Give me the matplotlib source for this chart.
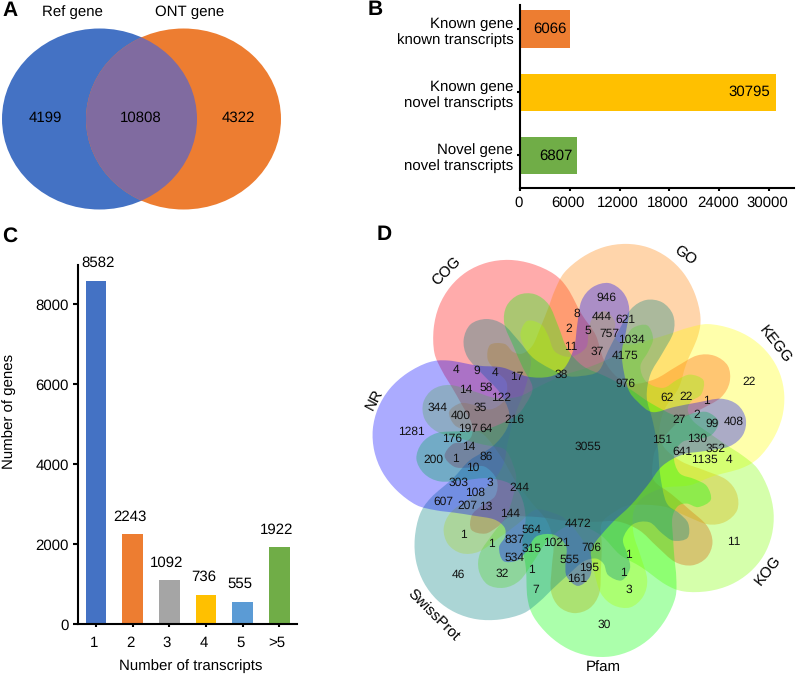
import numpy as np
import matplotlib
matplotlib.use('Agg')
import matplotlib.pyplot as plt
from matplotlib.patches import Ellipse, PathPatch
from matplotlib.path import Path
from matplotlib.transforms import ScaledTranslation

plt.rcParams['font.family'] = ['Liberation Sans', 'DejaVu Sans']
plt.rcParams['text.hinting'] = 'none'
plt.rcParams['text.hinting_factor'] = 1
W, H = 796, 676
FS = 11.0

# ---- data ----
venn2_names = ['Ref gene', 'ONT gene']
venn2_values = [4199, 10808, 4322]

b_cats = ['Known gene\nknown transcripts', 'Known gene\nnovel transcripts', 'Novel gene\nnovel transcripts']
b_vals = [6066, 30795, 6807]
b_cols = ['#ED7D31', '#FFC000', '#70AD47']
b_ticks = [0, 6000, 12000, 18000, 24000, 30000]

c_cats = ['1', '2', '3', '4', '5', '>5']
c_vals = [8582, 2243, 1092, 736, 555, 1922]
c_cols = ['#4472C4', '#ED7D31', '#A5A5A5', '#FFC000', '#5B9BD5', '#70AD47']
c_ticks = [0, 2000, 4000, 6000, 8000]

d_sets = ['COG', 'GO', 'KEGG', 'KOG', 'Pfam', 'SwissProt', 'NR']
d_cols = ['#FF0000', '#FF8000', '#FFFF00', '#80FF00', '#00FF00', '#008080', '#0000FF']
d_axis = [123.4, 72, 20.6, -30.8, -82.2, -133.7, 175]
d_values = ['4','9','4','17','38','946','8','444','621','2','5','757','1034','11','37','4175','976',
            '22','62','22','1','27','2','99','408','151','130','352','641','1135','4',
            '14','58','122','344','35','400','216','197','64','176','14','1281','200','1','86','10',
            '303','3','108','244','607','207','13','144','3055','4472','564','1','837','1','315','1021','706',
            '534','555','195','1','32','1','161','1','46','7','3','30','11']
d_value_pos = [(289,420),(350,421),(406,430),(470,442),(605,433),(740,203),(651,252),(725,262),(796,268),
    (625,297),(685,303),(747,311),(814,329),(632,352),(711,364),(795,378),(797,461),
    (1167,457),(922,502),(978,502),(1039,512),(958,569),(1011,555),(1056,582),(1122,574),(905,628),(1011,626),
    (1067,657),(967,665),(1032,688),(1106,691),
    (317,481),(378,474),(423,503),(233,533),(360,532),(302,557),(464,568),(323,595),(379,597),(275,627),(326,652),
    (154,605),(221,690),(285,686),(379,680),(338,713),(297,758),(390,758),(345,788),(478,773),(249,816),(322,826),
    (378,830),(449,852),(684,650),(655,882),(515,898),(309,915),(462,928),(395,942),(515,955),(590,939),(694,952),
    (464,984),(630,990),(686,1013),(806,976),(428,1032),(513,1021),(652,1045),(791,1028),(294,1034),(528,1080),
    (806,1080),(734,1184),(1120,935)]
d_name_pos = [(258,122),(975,75),(1245,345),(1225,1022),(730,1315),(218,1157),(42,510)]
d_name_rot = [45,-35,-52,52,0,-45,62]

# ---- overlay (pixel coordinates) ----
fig = plt.figure(figsize=(W/100, H/100), dpi=100)
ov = fig.add_axes([0, 0, 1, 1])
ov.set_xlim(0, W); ov.set_ylim(H, 0); ov.axis('off')

def rect(x0, x1, ytop, ybot):
    return [x0/W, 1-ybot/H, (x1-x0)/W, (ybot-ytop)/H]

# Panel A
left = Ellipse((99.5, 119), 195, 181, fc='#4472C4', ec='none')
right = Ellipse((183.5, 119), 195, 181, fc='#ED7D31', ec='none')
ov.add_patch(left); ov.add_patch(right)
lens = Ellipse((99.5, 119), 195, 181, fc='#806BA0', ec='none', zorder=2)
ov.add_patch(lens); lens.set_clip_path(right)
for x, v in zip([45, 141, 238], venn2_values):
    ov.text(x, 118, str(v), fontsize=FS, ha='center', va='center', zorder=5)
for x, n in zip([72, 190], venn2_names):
    ov.text(x, 12, n, fontsize=FS, ha='center', va='center')

for s, x, y in [('A', 10, 11), ('B', 375, 10), ('C', 10, 236), ('D', 384, 235)]:
    ov.text(x, y, s, fontsize=15, fontweight='bold', ha='center', va='center')

# Panel D: seven rotated copies of one petal outline (angle deg, radius in 3x px)
CX, CY = 668, 653
petal = [(0,632),(-6,625),(-12,605),(-18,572),(-24,528),(-28,480),(-33,400),(-40,340),(-47,271),(-60,235),(-72,245),
    (-80,300),(-82.5,370),(-84.5,440),(-88.5,482),(-94,500),(-99.5,482),(-103.5,440),(-105.5,370),(-108,300),
    (-122,225),(-135,215),(-148,235),
    (-151,300),(-153.5,370),(-155.5,440),(-159.5,482),(-165,497),(-170.5,482),(-174.5,440),(-176.5,370),(-179,300),
    (-188,245),(-205,225),(-225,225),(-245,245),
    (-259.5,300),(-260.5,350),(-262,390),(-267,415),(-272,390),(-273.5,350),(-274.5,300),(-283,275),
    (-292.5,300),(-293.5,350),(-295,390),(-300,415),(-305,390),(-306,355),(-309.5,335),(-316,342),
    (-323,385),(-328,430),(-332,480),(-336,528),(-342,572),(-348,605),(-354,625)]

def petal_path(axis_deg):
    a = np.radians(np.array([p[0] for p in petal]) + axis_deg)
    r = np.array([p[1] for p in petal], float)
    xy = np.c_[CX + r*np.cos(a), CY - r*np.sin(a)]
    xy = np.c_[360 + xy[:, 0]/3, 230 + xy[:, 1]/3]
    n = len(xy)
    verts = [xy[0]]; codes = [Path.MOVETO]
    for i in range(n):
        p0, p1, p2, p3 = xy[i-1], xy[i], xy[(i+1) % n], xy[(i+2) % n]
        verts += [p1+(p2-p0)/6, p2-(p3-p1)/6, p2]
        codes += [Path.CURVE4]*3
    return Path(verts, codes)

for ang, col in zip(d_axis, d_cols):
    ov.add_patch(PathPatch(petal_path(ang), fc=col, ec='none', alpha=0.33, zorder=3))
for v, (x, y) in zip(d_values, d_value_pos):
    ov.text(360+x/3, 230+y/3, v, fontsize=8.9, ha='center', va='center', zorder=6, color='#111111')
for n, (x, y), rot in zip(d_sets, d_name_pos, d_name_rot):
    ov.text(360+x/3, 230+y/3, n, fontsize=FS, ha='center', va='center', rotation=rot,
            rotation_mode='anchor', zorder=6)

# Panel B
ab = fig.add_axes(rect(520, 794, 5, 188))
ab.patch.set_alpha(0)
ab.barh(range(3), b_vals, height=0.593, color=b_cols)
ab.set_xlim(0, 274/49.83*6000); ab.set_ylim(2.514, -0.38)
ab.set_yticks(range(3)); ab.set_yticklabels(b_cats, fontsize=FS, ha='right', linespacing=1.2)
ab.set_xticks(b_ticks); ab.set_xticklabels([str(t) for t in b_ticks], fontsize=FS)
for v, d in zip(b_vals, [-3, -4, -2.7]):
    ab.annotate(str(v), (v, b_vals.index(v)), xytext=(d, 0), textcoords='offset points',
                ha='right', va='center', fontsize=FS)
for side in ['top', 'right']:
    ab.spines[side].set_visible(False)
for side in ['left', 'bottom']:
    ab.spines[side].set_linewidth(1.5)
ab.tick_params(axis='x', width=1.5, length=2.5, pad=3.5)
ab.tick_params(axis='y', width=1.5, length=2.5, pad=2.3)
for t in ab.get_xticklabels():
    t.set_transform(t.get_transform() + ScaledTranslation(-1.7/100, 0, fig.dpi_scale_trans))

# Panel C
ac = fig.add_axes(rect(77.7, 297, 265, 624))
ac.patch.set_alpha(0)
ac.bar(range(6), c_vals, width=0.565, color=c_cols)
ac.set_xlim(-0.5, 5.48); ac.set_ylim(0, 359/319.7*8000)
ac.set_xticks(range(6)); ac.set_xticklabels(c_cats, fontsize=FS)
ac.set_yticks(c_ticks); ac.set_yticklabels([str(t) for t in c_ticks], fontsize=FS)
offs = [2.3, -3, -2.7, -2.7, -2.5, -2.7]
for i, (v, o) in enumerate(zip(c_vals, offs)):
    ac.annotate(str(v), (i, v), xytext=(o*0.72, 12.7), textcoords='offset points',
                ha='center', va='center', fontsize=FS)
for side in ['top', 'right']:
    ac.spines[side].set_visible(False)
for side in ['left', 'bottom']:
    ac.spines[side].set_linewidth(1.5)
ac.tick_params(axis='x', width=1.5, length=2.5, pad=6)
ac.tick_params(axis='y', width=1.5, length=3.5, pad=3)
for t in ac.get_xticklabels():
    t.set_transform(t.get_transform() + ScaledTranslation(-2.5/100, 0, fig.dpi_scale_trans))
ov.text(9, 411.7, 'Number of genes', fontsize=FS, rotation=90, ha='center', va='center')
ov.text(190.7, 666, 'Number of transcripts', fontsize=FS, ha='center', va='center')

fig.savefig('out.png', dpi=100)
